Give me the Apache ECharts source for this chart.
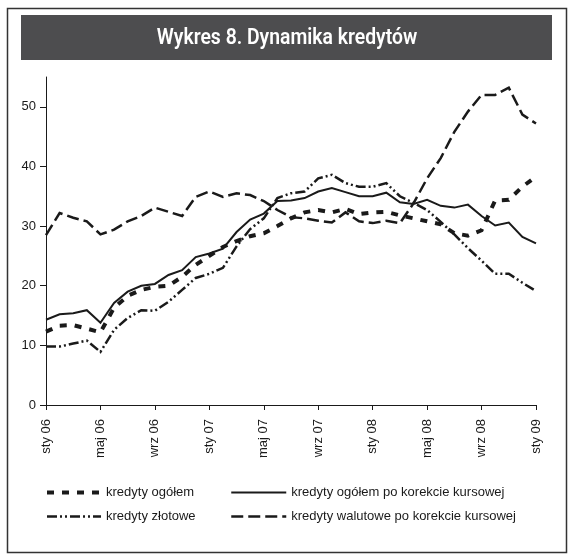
<!DOCTYPE html>
<html>
<head>
<meta charset="utf-8">
<script src="https://cdn.jsdelivr.net/npm/echarts@6/dist/echarts.min.js"></script>
<style>
  html, body { margin: 0; padding: 0; background: #ffffff; }
  #chart { width: 573px; height: 560px; }
</style>
</head>
<body>
<div id="chart"></div>
<script>
// Months from January 2006 to January 2009
const months = [
  'sty 06','lut 06','mar 06','kwi 06','maj 06','cze 06','lip 06','sie 06','wrz 06','paź 06','lis 06','gru 06',
  'sty 07','lut 07','mar 07','kwi 07','maj 07','cze 07','lip 07','sie 07','wrz 07','paź 07','lis 07','gru 07',
  'sty 08','lut 08','mar 08','kwi 08','maj 08','cze 08','lip 08','sie 08','wrz 08','paź 08','lis 08','gru 08',
  'sty 09'
];

// Year-on-year growth, %
const kredytyOgolem = [
  12.3, 13.3, 13.4, 12.8, 12.2, 16.3, 18.3, 19.3, 19.8, 20.0, 21.5, 23.5,
  25.0, 26.5, 27.5, 28.3, 28.8, 30.0, 31.3, 32.3, 32.7, 32.3, 32.9, 32.0,
  32.3, 32.4, 31.8, 31.3, 30.8, 30.3, 28.8, 28.4, 29.3, 34.3, 34.4, 36.6,
  38.3
];
const kredytyOgolemKorekta = [
  14.3, 15.2, 15.4, 15.9, 13.8, 17.1, 19.0, 20.0, 20.3, 21.8, 22.6, 24.8,
  25.4, 26.2, 29.0, 31.1, 32.1, 34.2, 34.3, 34.7, 35.8, 36.4, 35.7, 35.0,
  35.0, 35.6, 34.0, 33.7, 34.4, 33.4, 33.1, 33.6, 31.7, 30.1, 30.6, 28.2,
  27.1
];
const kredytyZlotowe = [
  9.8, 9.8, 10.3, 10.8, 8.9, 12.6, 14.6, 15.9, 15.8, 17.3, 19.3, 21.3,
  22.0, 23.0, 26.6, 29.5, 31.3, 34.7, 35.5, 35.8, 38.0, 38.6, 37.2, 36.6,
  36.6, 37.2, 35.0, 33.9, 32.7, 30.7, 28.6, 26.3, 24.2, 22.0, 22.0, 20.5,
  19.1
];
const kredytyWalutoweKorekta = [
  28.5, 32.2, 31.4, 30.8, 28.6, 29.4, 30.8, 31.7, 33.1, 32.4, 31.7, 34.9,
  35.8, 34.9, 35.5, 35.2, 34.2, 32.7, 31.5, 31.3, 30.9, 30.6, 32.3, 30.8,
  30.5, 30.9, 30.5, 33.8, 38.0, 41.4, 45.8, 49.2, 52.0, 52.0, 53.2, 48.7,
  47.2
];
const yTicks = [0, 10, 20, 30, 40, 50];

const FONT = '"Liberation Sans", Arial, sans-serif';
const INK = '#1a1a1a';

const chart = echarts.init(document.getElementById('chart'), null, { renderer: 'canvas' });

function lineSeries(name, data, width, dash) {
  return {
    name: name,
    type: 'line',
    data: data,
    symbol: 'none',
    smooth: false,
    lineStyle: { color: INK, width: width, type: dash, cap: 'butt', join: 'miter' },
    itemStyle: { color: INK },
    emphasis: { disabled: true },
    animation: false
  };
}

const legendText = { fontFamily: FONT, fontSize: 13, color: INK };

chart.setOption({
  backgroundColor: '#ffffff',
  animation: false,
  graphic: [
    { type: 'rect', shape: { x: 7.5, y: 8.5, width: 559, height: 544 },
      style: { fill: 'none', stroke: '#333333', lineWidth: 1.5 }, silent: true },
    { type: 'rect', shape: { x: 21, y: 15, width: 531, height: 45 },
      style: { fill: '#4d4d4f' }, silent: true },
    { type: 'text', x: 287, y: 38, scaleX: 0.88,
      style: { text: 'Wykres 8. Dynamika kredytów', fill: '#ffffff',
               font: '600 22px Roboto, "Open Sans", sans-serif',
               textAlign: 'center', textVerticalAlign: 'middle' }, silent: true }
  ],
  grid: { left: 46, right: 37, top: 77, bottom: 155, containLabel: false },
  xAxis: {
    type: 'category',
    data: months,
    boundaryGap: false,
    axisLine: { lineStyle: { color: INK, width: 1 } },
    axisTick: { show: true, interval: 3, length: 5, lineStyle: { color: INK } },
    axisLabel: { interval: 3, rotate: 90, margin: 14, fontFamily: FONT, fontSize: 13, color: INK },
    splitLine: { show: false }
  },
  yAxis: {
    type: 'value',
    min: 0,
    max: 55,
    interval: 10,
    axisLine: { show: true, lineStyle: { color: INK, width: 1 } },
    axisTick: { show: true, length: 6, customValues: yTicks, lineStyle: { color: INK } },
    axisLabel: { margin: 10, customValues: yTicks, fontFamily: FONT, fontSize: 13, color: INK },
    splitLine: { show: false }
  },
  legend: [
    {
      data: ['kredyty ogółem', 'kredyty złotowe'],
      orient: 'vertical', left: 45, top: 486, padding: 0,
      itemWidth: 54, itemHeight: 14, itemGap: 11, itemStyle: { opacity: 0 },
      lineStyle: { width: 'inherit' },
      textStyle: legendText, selectedMode: false
    },
    {
      data: ['kredyty ogółem po korekcie kursowej', 'kredyty walutowe po korekcie kursowej'],
      orient: 'vertical', left: 230, top: 486, padding: 0,
      itemWidth: 55, itemHeight: 14, itemGap: 11, itemStyle: { opacity: 0 },
      lineStyle: { width: 'inherit' },
      textStyle: legendText, selectedMode: false
    }
  ],
  series: [
    lineSeries('kredyty ogółem', kredytyOgolem, 4, [7, 8]),
    lineSeries('kredyty ogółem po korekcie kursowej', kredytyOgolemKorekta, 2, 'solid'),
    lineSeries('kredyty złotowe', kredytyZlotowe, 2.5, [10, 3, 2, 3, 2, 3]),
    lineSeries('kredyty walutowe po korekcie kursowej', kredytyWalutoweKorekta, 2.5, [12, 5])
  ]
});
</script>
</body>
</html>
